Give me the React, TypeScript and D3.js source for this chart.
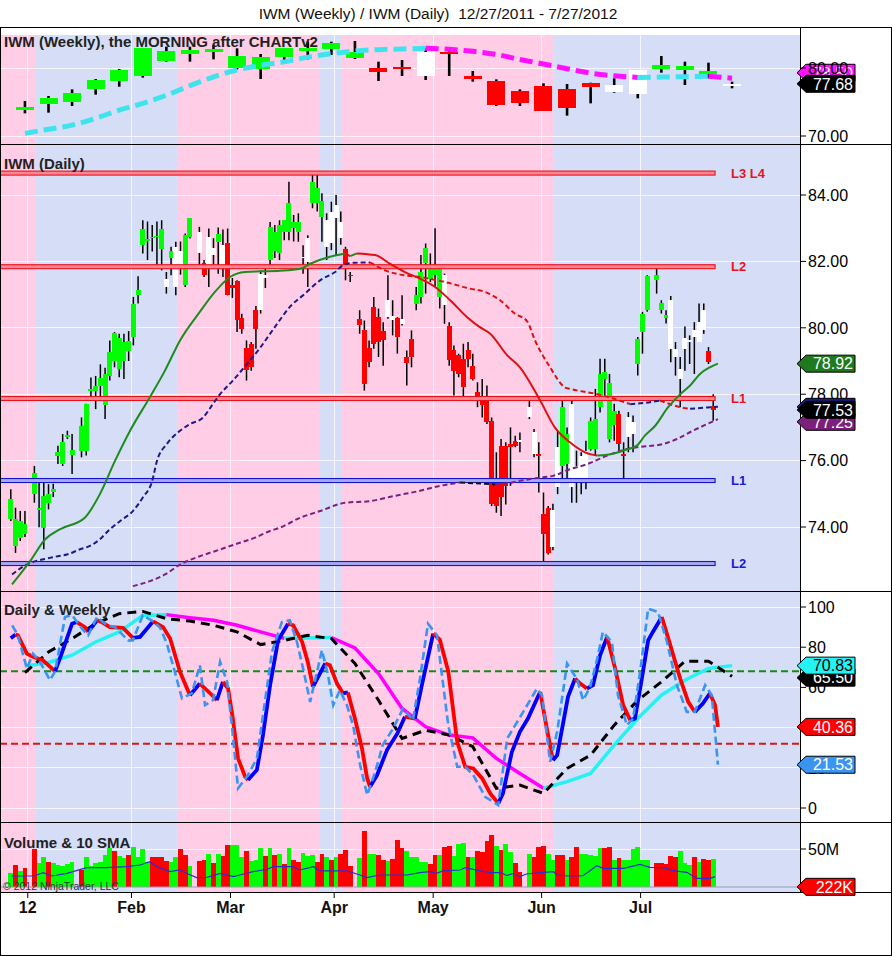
import React, { useEffect, useRef } from "react";
import * as d3 from "d3";

type Pt = [number, number];

// ---- calendar (one slot per weekday; holidays leave empty slots) ----
const firstDay = "2011-12-27";
const lastDay = "2012-07-23";
const firstWeekEnd = "2011-12-30";
const lastWeekEnd = "2012-07-27";
const holidays = ["2012-01-02", "2012-01-16", "2012-02-20", "2012-04-06", "2012-05-28", "2012-07-04"];
const monthTicks = [
  { label: "12", date: "2012-01-02" },
  { label: "Feb", date: "2012-02-01" },
  { label: "Mar", date: "2012-03-01" },
  { label: "Apr", date: "2012-04-02" },
  { label: "May", date: "2012-05-01" },
  { label: "Jun", date: "2012-06-01" },
  { label: "Jul", date: "2012-07-02" },
];

// background session shading, slot positions where the colour flips
const shadeEdges = [5.1, 35.3, 65.6, 70.3, 115.2];
const shadeColors = ["#ffcde6", "#d5def6"];

// ---- weekly IWM ----
const weeklyOpen = [73.82, 74.66, 75.05, 76.91, 78.14, 78.87, 81.08, 82.0, 82.4, 80.05, 79.8, 81.57, 82.65, 82.75, 81.42, 79.95, 80.2, 78.82, 82.4, 78.82, 78.09, 76.62, 77.35, 76.91, 77.84, 76.52, 76.18, 79.8, 79.7, 79.12, 77.6];
const weeklyHigh = [75.15, 75.88, 76.86, 78.38, 79.85, 82.95, 83.14, 83.14, 83.38, 82.89, 82.06, 82.95, 83.87, 83.87, 83.97, 80.93, 81.18, 82.89, 82.5, 79.56, 78.33, 76.86, 77.75, 77.65, 77.84, 78.48, 79.7, 81.76, 80.93, 80.78, 77.99];
const weeklyLow = [73.33, 73.43, 74.41, 76.08, 77.25, 78.58, 80.93, 80.93, 81.27, 79.8, 78.38, 81.08, 81.27, 81.91, 81.32, 78.09, 78.82, 78.24, 78.82, 77.99, 74.41, 74.41, 73.73, 72.99, 74.8, 76.37, 75.54, 79.31, 77.5, 78.48, 77.01];
const weeklyClose = [74.22, 75.54, 76.27, 78.24, 79.71, 82.89, 82.5, 82.65, 82.79, 81.76, 81.57, 82.89, 82.89, 83.73, 82.4, 79.46, 79.8, 82.4, 82.4, 78.63, 74.56, 74.8, 73.73, 74.07, 77.16, 77.5, 79.7, 80.44, 80.29, 79.6, 77.68];
const weeklyPaint = "gggggggggggggggrrwrrrrrrrwwgggw";
const weeklyMA = [70.39, 71.0, 71.6, 72.6, 73.8, 74.8, 76.0, 77.4, 78.7, 79.7, 80.4, 80.9, 81.6, 82.1, 82.5, 82.7, 82.8, 82.9, 82.75, 82.45, 82.0, 81.25, 80.6, 79.9, 79.25, 78.85, 78.62, 78.66, 78.72, 78.78, 78.5];

// ---- daily IWM ----
const dailyOpen = [74.23, 73.43, 73.68, 73.78, 74.99, 74.5, 73.98, 74.73, 75.05, 76.15, 75.9, 76.72, 76.18, 76.3, 76.3, 78.1, 78.1, 78.24, 77.66, 78.56, 79.0, 78.76, 79.0, 79.3, 79.72, 81.0, 82.49, 82.6, 82.7, 82.75, 82.36, 81.48, 82.1, 82.44, 82.3, 81.28, 82.74, 82.9, 81.94, 82.74, 82.2, 82.59, 82.49, 82.54, 81.2, 81.41, 80.29, 79.4, 79.5, 79.97, 80.53, 81.5, 82.04, 82.3, 82.24, 82.89, 82.89, 83.0, 82.89, 82.14, 82.69, 83.75, 83.75, 83.33, 83.24, 83.5, 83.7, 83.2, 82.37, 81.6, 80.27, 79.92, 79.4, 80.63, 80.33, 79.9, 80.83, 80.37, 80.3, 80.27, 79.12, 79.67, 80.73, 80.93, 81.94, 81.48, 81.6, 80.93, 81.58, 80.04, 79.34, 79.19, 79.07, 79.32, 78.84, 78.06, 77.86, 77.96, 77.2, 75.34, 76.45, 76.45, 76.5, 76.6, 76.62, 77.3, 76.85, 76.2, 74.38, 74.58, 73.4, 76.4, 75.84, 75.9, 77.7, 75.84, 76.15, 76.3, 76.35, 76.35, 77.6, 78.46, 76.65, 77.06, 77.4, 76.2, 77.3, 77.15, 78.91, 79.87, 80.53, 81.45, 80.53, 80.3, 80.83, 79.37, 78.76, 79.37, 79.57, 79.92, 80.17, 80.53, 79.3, 77.64];
const dailyHigh = [75.14, 74.58, 74.48, 74.48, 75.84, 75.34, 75.34, 75.29, 75.3, 76.45, 76.8, 76.9, 76.8, 77.3, 77.71, 78.5, 78.55, 78.9, 78.8, 79.62, 79.87, 79.82, 79.82, 79.9, 80.93, 81.55, 83.24, 83.2, 83.1, 83.2, 83.24, 81.68, 82.44, 82.59, 82.6, 82.84, 83.3, 83.04, 82.04, 82.99, 82.7, 83.02, 82.96, 82.99, 81.5, 81.43, 80.42, 79.62, 79.57, 80.66, 81.73, 81.8, 83.19, 83.1, 83.24, 83.24, 84.4, 83.4, 83.45, 82.49, 82.79, 84.65, 84.6, 84.05, 83.45, 83.8, 84.0, 83.5, 82.44, 81.68, 80.53, 80.22, 79.62, 80.93, 80.58, 80.17, 81.58, 80.83, 80.32, 80.98, 79.32, 79.92, 81.23, 82.19, 82.54, 82.24, 83.0, 81.88, 81.63, 80.17, 79.47, 79.22, 79.52, 79.57, 79.22, 78.36, 78.46, 78.26, 77.3, 76.25, 76.65, 76.55, 77.0, 76.75, 76.85, 77.86, 76.95, 76.55, 75.04, 74.63, 74.7, 76.9, 77.81, 77.0, 77.86, 76.3, 76.25, 76.6, 77.3, 78.16, 79.07, 79.07, 78.61, 77.71, 77.5, 76.55, 77.46, 77.36, 79.72, 80.48, 81.58, 81.83, 80.83, 80.53, 80.96, 79.57, 79.12, 80.04, 79.77, 80.17, 80.73, 80.73, 79.42, 78.0];
const dailyLow = [74.18, 73.22, 73.58, 73.7, 74.73, 73.99, 73.33, 74.53, 74.9, 75.9, 75.84, 76.65, 75.6, 76.1, 76.15, 77.8, 77.55, 77.9, 77.25, 78.41, 78.81, 78.51, 78.46, 79.0, 79.47, 80.73, 82.24, 82.04, 82.3, 81.9, 81.73, 81.03, 81.58, 80.98, 81.6, 81.23, 82.69, 81.89, 81.53, 81.23, 81.9, 81.63, 81.53, 80.98, 80.9, 79.87, 79.82, 78.41, 78.71, 79.37, 80.43, 81.2, 81.89, 82.1, 82.04, 82.64, 82.64, 82.6, 82.59, 81.63, 81.23, 83.6, 83.5, 82.59, 82.04, 82.34, 82.19, 82.5, 81.43, 81.38, 79.82, 78.11, 78.81, 79.37, 79.12, 78.86, 80.27, 79.77, 79.22, 80.07, 78.26, 78.81, 80.53, 80.73, 81.03, 81.38, 81.23, 80.58, 80.12, 78.86, 77.96, 78.51, 77.91, 78.81, 78.41, 77.61, 77.3, 77.1, 74.63, 74.43, 74.33, 74.68, 75.24, 76.4, 76.25, 77.25, 76.1, 75.04, 72.92, 73.17, 73.3, 74.99, 75.34, 75.4, 74.73, 74.73, 74.99, 75.14, 76.3, 76.15, 77.45, 77.81, 76.55, 76.6, 76.3, 75.44, 76.25, 76.25, 78.56, 79.22, 80.48, 81.03, 80.43, 80.13, 78.96, 78.56, 77.61, 78.71, 78.91, 78.61, 79.57, 79.82, 78.91, 77.2];
const dailyClose = [74.84, 74.23, 74.18, 74.08, 75.64, 74.58, 74.94, 74.99, 75.14, 76.25, 76.55, 76.78, 76.32, 77.05, 77.7, 78.16, 78.24, 78.5, 78.61, 79.27, 79.84, 79.7, 79.57, 79.6, 80.73, 81.15, 82.99, 82.66, 82.75, 82.77, 82.99, 81.23, 82.3, 81.23, 81.9, 82.81, 83.3, 82.24, 81.6, 81.9, 82.4, 82.82, 81.9, 80.98, 81.3, 80.22, 79.97, 78.73, 78.81, 80.53, 81.63, 81.6, 83.04, 82.9, 83.09, 83.24, 83.75, 83.2, 83.19, 82.1, 81.99, 84.4, 84.2, 83.82, 82.44, 82.54, 83.3, 82.7, 81.85, 81.56, 80.07, 78.31, 78.96, 79.52, 79.57, 79.62, 80.33, 80.22, 79.72, 80.12, 78.93, 79.12, 80.98, 81.68, 82.39, 81.83, 81.83, 81.78, 80.68, 79.02, 78.71, 78.61, 78.21, 79.07, 78.46, 77.8, 77.66, 77.15, 74.68, 74.63, 74.89, 75.24, 76.4, 76.45, 76.6, 77.6, 76.2, 76.18, 73.78, 73.23, 74.5, 75.19, 77.6, 76.8, 75.19, 75.49, 75.39, 75.44, 77.2, 77.25, 78.61, 78.66, 78.33, 77.5, 76.5, 76.18, 76.7, 76.8, 79.67, 80.43, 81.55, 81.6, 80.75, 80.4, 79.37, 79.12, 78.46, 79.7, 79.62, 79.72, 79.57, 79.92, 78.96, 77.53];
const dailyPaint = "ggggggggggggggggggggggggggggggg" + "wgwwggwrwwgwrrrrrrr" + "wwggggggg" + "wwggg" + "wwww" + "rr" + "rrrrrr" + "wwrwrr" + "gggggg" + "w" + "rrrrrrrrrrrrrrr" + "www" + "rrr" + "ww" + "gg" + "wwww" + "gggggg" + "rr" + "ww" + "gggggg" + "wwwwwwww" + "rr";

// moving averages, [slot, price]
const fastMA: Pt[] = [[0.25, 72.27], [4.1, 72.97], [7.3, 73.63], [10.4, 73.93], [15.7, 74.28], [18.9, 74.99], [22.1, 75.99], [25.3, 76.9], [29.5, 77.91], [32.7, 78.71], [35.9, 79.62], [40.1, 80.48], [43.3, 81.08], [46.5, 81.53], [49.7, 81.68], [52.9, 81.7], [57.1, 81.72], [61.4, 81.78], [63.5, 81.93], [67.7, 82.14], [70.9, 82.24], [72.0, 82.16], [73.4, 82.24], [77.3, 82.19], [80.4, 81.93], [83.6, 81.68], [86.8, 81.48], [90.0, 81.23], [93.2, 80.83], [96.8, 80.32], [99.5, 80.02], [101.7, 79.82], [105.3, 79.17], [108.0, 78.81], [112.3, 77.81], [115.4, 77.0], [118.6, 76.55], [121.8, 76.25], [124.4, 76.15], [126.1, 76.17], [127.5, 76.2], [130.3, 76.32], [132.8, 76.45], [134.5, 76.75], [136.7, 77.05], [139.4, 77.6], [142.0, 78.0], [144.1, 78.26], [146.2, 78.61], [148.3, 78.81], [150.0, 78.92]];
const midMA: Pt[] = [[0.25, 72.57], [3.4, 72.87], [8.3, 73.07], [10.0, 73.12], [11.9, 73.17], [14.7, 73.33], [16.8, 73.43], [18.9, 73.63], [21.0, 73.93], [23.2, 74.18], [25.9, 74.48], [28.0, 74.89], [30.0, 75.39], [31.0, 75.99], [33.1, 76.5], [35.9, 76.9], [38.0, 77.1], [40.8, 77.3], [42.9, 77.71], [44.4, 78.0], [47.1, 78.41], [50.1, 78.91], [52.9, 79.4], [56.0, 80.02], [59.2, 80.63], [62.4, 81.03], [65.6, 81.43], [68.8, 81.68], [70.9, 81.92], [73.0, 81.96], [76.2, 81.97], [79.4, 81.73], [83.6, 81.58], [86.8, 81.53], [92.1, 81.38], [97.4, 81.18], [100.6, 81.08], [103.8, 80.83], [106.9, 80.43], [109.5, 80.2], [111.2, 79.62], [114.4, 78.81], [117.6, 78.2], [118.6, 78.16], [124.4, 78.0], [127.1, 77.9], [131.4, 77.7], [134.5, 77.74], [137.7, 77.81], [142.0, 77.61], [144.1, 77.56], [147.7, 77.6], [150.0, 77.62]];
const slowMA: Pt[] = [[25.9, 72.22], [29.5, 72.37], [32.7, 72.57], [35.9, 72.87], [40.1, 73.12], [43.3, 73.27], [47.6, 73.48], [51.8, 73.68], [55.0, 73.88], [57.1, 73.98], [61.4, 74.28], [65.6, 74.48], [70.9, 74.73], [76.2, 74.78], [81.5, 74.94], [86.8, 75.09], [91.1, 75.24], [95.3, 75.34], [99.5, 75.31], [102.7, 75.28], [105.9, 75.33], [108.0, 75.39], [112.3, 75.49], [115.0, 75.54], [118.6, 75.74], [122.2, 75.89], [126.5, 76.15], [130.7, 76.35], [132.8, 76.4], [138.4, 76.5], [141.3, 76.65], [144.7, 76.9], [147.7, 77.1], [150.0, 77.25]];

// hand-drawn support / resistance levels
const resistance = [84.66, 81.84, 77.87];
const resistanceLabels = ["L3 L4", "L2", "L1"];
const support = [75.4, 72.9];
const supportLabels = ["L1", "L2"];
const levelEndSlot = 149.4;

// ---- Daily & Weekly oscillator ----
const oscFast: Pt[] = [[0.3, 90.9], [1.5, 85.9], [3.4, 69.4], [4.7, 76.8], [6.2, 72.7], [8.3, 63.6], [9.4, 68], [11.5, 95], [13, 95.9], [15.1, 89.2], [16.4, 85.9], [18.3, 95], [20.4, 90.9], [22.1, 90], [24.9, 83.4], [25.9, 83.4], [28, 95.9], [30.2, 92.9], [31.7, 89.6], [33.1, 81.8], [34.8, 67.7], [36.3, 54.5], [38.4, 57], [40.1, 71], [41.2, 51.2], [42.9, 53.6], [44.4, 72.7], [45.9, 62.7], [47.1, 36.3], [48.2, 9.8], [50.1, 15.6], [52.2, 24.7], [53.9, 52.8], [55.4, 77.6], [57.5, 92.5], [59.2, 93.4], [60.7, 82.6], [62, 69.4], [63.5, 52.8], [66, 78.5], [67.3, 66], [68.4, 51.2], [69.8, 58.6], [71.3, 51.2], [72.6, 41.2], [74.1, 21.4], [75.6, 6.5], [77.3, 18], [78.9, 31.3], [81.1, 39.6], [83.2, 49.5], [85.3, 43.7], [86.8, 64.4], [88.5, 91.7], [90.4, 85.9], [92.8, 41.2], [94.7, 20.5], [96.4, 20.5], [98.1, 16.4], [100.6, 5.6], [103.4, 1.5], [105.3, 34.6], [107, 41.2], [108.7, 47.8], [111.6, 59.4], [112.7, 56.1], [114.4, 23], [115.9, 37.9], [118, 71.9], [119.1, 67.7], [120.1, 64.4], [121.4, 53.6], [122.9, 60.3], [124.4, 74.3], [125.6, 87.6], [127.5, 82.6], [128.8, 56.1], [130.7, 41.2], [132, 44.5], [133.5, 67.7], [135.2, 99.2], [137.3, 97.5], [139.2, 82.6], [141.3, 61.1], [143.4, 47.8], [145.1, 47.8], [147.3, 61.1], [148.7, 56.1], [150, 21.53]];
const oscSlow: Pt[] = [[0, 84.5], [1, 86.3], [1.5, 85.9], [3.4, 76.8], [4.7, 75.2], [6.8, 73.5], [9.4, 68], [10.9, 77.6], [13, 91.7], [14, 92.5], [15.7, 90], [16.4, 87.6], [18.3, 93.4], [19.3, 92.5], [21, 90], [23.8, 89.6], [25.9, 84.6], [27.4, 85.1], [30.2, 92.9], [32.3, 90], [33.8, 84.3], [35.9, 67.7], [38, 56.1], [40.1, 61.9], [42.7, 56.1], [43.7, 53.6], [45, 62.7], [46.1, 59.4], [47.1, 44.5], [48.2, 24.7], [49.7, 15.6], [50.3, 13.9], [52.2, 18.9], [53.5, 36.3], [55, 61.1], [56.7, 83.4], [58.8, 91.7], [59.9, 90.9], [61.8, 82.6], [63, 72.7], [64.1, 60.3], [65.2, 65.2], [66.7, 71.9], [67.7, 71], [69.2, 61.9], [70.5, 57], [71.5, 57.5], [73, 44.5], [74.5, 29.6], [75.6, 14.7], [76.2, 10.6], [77.7, 16.4], [79.8, 28.8], [82, 37.1], [83.6, 45.4], [85.7, 44.5], [87.2, 61.1], [89.6, 86.8], [91, 83.8], [92.8, 68], [94.7, 32.9], [96.4, 20.5], [98.1, 19.7], [100, 14.7], [101.7, 7.3], [103.4, 2.3], [104.4, 7.3], [106.3, 28], [108, 37.9], [109.7, 44.5], [112.3, 57.8], [113.7, 39.6], [115, 23.8], [115.9, 26.3], [118.2, 55.3], [119.7, 64.4], [120.8, 61.9], [122.2, 59.4], [123.5, 61.1], [125, 76], [126.5, 85.1], [128.2, 69.4], [129.9, 51.2], [131.4, 43.7], [132.4, 44.5], [133.5, 59.4], [135.2, 83.4], [136.2, 87.6], [138.1, 95], [139.8, 81.8], [142, 64.4], [143.7, 52.8], [145.1, 47.8], [146.8, 52], [148.3, 57], [149.4, 51.2], [150, 40.36]];
const oscWeeklyK = [67.4, 77.6, 84.3, 91.7, 96.7, 97.8, 94.2, 93.0, 90.9, 87.6, 81.3, 83.4, 85.9, 84.3, 71.9, 53.6, 34.6, 38.7, 36.3, 30.5, 9.8, 11.4, 7.3, 19.7, 26.3, 41.2, 53.6, 62.7, 73.0, 73.0, 65.5];
const oscWeeklyD = [70.5, 72.4, 76.0, 82.6, 87.6, 95.8, 96.2, 94.7, 93.4, 90.9, 87.6, 84.4, 84.6, 84.8, 79.6, 66.9, 49.5, 40.4, 36.3, 34.9, 24.7, 17.2, 9.8, 13.1, 17.2, 31.3, 44.5, 56.1, 63.6, 69.4, 70.83];
const overbought = 68;
const oversold = 32;

// ---- volume (millions) ----
const volume = [18, 29, 21, 25, 50, 32, 40, 33, 31, 29, 28, 30, 33, 22, 39, 27, 31, 33, 42, 51, 47, 41, 38, 42, 52, 40, 50, 33, 39, 40, 40, 34, 33, 39, 50, 42, 27, 34, 36, 43, 32, 44, 41, 55, 55, 55, 39, 47, 34, 36, 51, 41, 51, 42, 44, 30, 51, 36, 33, 45, 41, 42, 33, 43, 40, 36, 40, 43, 49, 27, 38, 74, 43, 43, 42, 36, 34, 37, 62, 51, 47, 40, 39, 33, 33, 30, 42, 42, 53, 54, 41, 56, 58, 39, 40, 47, 46, 61, 68, 54, 49, 57, 46, 31, 20, 43, 39, 52, 54, 43, 36, 42, 42, 36, 40, 52, 43, 43, 42, 41, 51, 51, 52, 36, 38, 36, 36, 50, 52, 35, 35, 32, 32, 30, 41, 39, 47, 31, 29, 39, 33, 37, 36, 37];
const volumePaint = "grgrrggrgg" + "gggrgggggg" + "rggrggggrr" + "rrggrrgrrg" + "rgrrgggrgg" + "grgrgrgrrg" + "ggrrgrgrrr" + "grggrrgrrr" + "gggggrrgrr" + "gggrgrrrrg" + "rggrrgrrrg" + "grrgrrgggg" + "grrgrggggg" + "grrrrrgggr" + "grrg";
const volumeSMA: Pt[] = [[0.2, 14.5], [4.8, 14.5], [6.9, 18.9], [8.7, 14.5], [11.9, 18.0], [16.1, 25.4], [20.3, 25.4], [24.6, 26.8], [27.4, 28.9], [29.5, 33.3], [31, 26.8], [33.8, 20.2], [35.9, 22.4], [37.3, 18.0], [39.4, 12.3], [41.6, 12.7], [44.4, 18.0], [47.2, 13.6], [48.6, 15.8], [51.4, 20.2], [54.3, 23.2], [55.7, 26.8], [59.9, 26.8], [61.3, 22.4], [64.2, 26.8], [65.6, 21.1], [71.3, 21.1], [74.1, 15.8], [75.5, 12.3], [78.3, 15.8], [84, 15.8], [86.8, 18.9], [88.9, 20.2], [90.3, 18.0], [91.7, 21.1], [95.3, 22.4], [96.4, 25.4], [98.1, 23.2], [101.7, 18.9], [104.1, 18.9], [105.2, 14.9], [106.6, 18.0], [108, 13.6], [109.4, 17.1], [112.3, 18.9], [115.1, 20.2], [116.1, 15.8], [117.9, 14.5], [121.4, 14.9], [124.3, 28.1], [125.7, 24.6], [130, 24.6], [133.5, 29.8], [135.6, 25.9], [138.4, 25.4], [140.5, 21.5], [143.4, 19.3], [145.5, 11.4], [148.3, 11.4], [149.4, 13.6]];
const lastVolume = 0.222;

const W = 892;
const H = 956;
const PLOT_R = 800;
const FONT = "'Liberation Sans', Arial, Helvetica, sans-serif";
const paint: Record<string, string> = { g: "#00ff00", r: "#ff0000", w: "#ffffff" };

const day = (s: string) => new Date(s + "T00:00:00Z");
const fmt = d3.utcFormat("%Y-%m-%d");
const isWeekday = (d: Date) => d.getUTCDay() % 6 !== 0;
const slotOf = (s: string) => d3.utcDay.range(day(firstDay), day(s)).filter(isWeekday).length;

// split a series into runs that go up or down, so each run gets its colour
function colorRuns(pts: Pt[]) {
  const out: { up: boolean; pts: Pt[] }[] = [];
  for (let i = 1; i < pts.length; i++) {
    const up = pts[i][1] >= pts[i - 1][1];
    const last = out[out.length - 1];
    if (last && last.up === up) last.pts.push(pts[i]);
    else out.push({ up, pts: [pts[i - 1], pts[i]] });
  }
  return out;
}

const App: React.FC = () => {
  const svgRef = useRef<SVGSVGElement | null>(null);

  useEffect(() => {
    if (!svgRef.current) return;
    const svg = d3.select(svgRef.current);
    svg.selectAll("*").remove();
    svg.attr("font-family", FONT);

    const holidaySet = new Set(holidays);
    const tradingDays = d3.utcDay
      .range(day(firstDay), d3.utcDay.offset(day(lastDay), 1))
      .filter(isWeekday)
      .map(fmt)
      .filter((s) => !holidaySet.has(s));
    const dSlots = tradingDays.map(slotOf);
    const wSlots = d3.utcFriday.range(day(firstWeekEnd), d3.utcDay.offset(day(lastWeekEnd), 1)).map((d) => slotOf(fmt(d)));
    const tickSlots = monthTicks.map((t) => slotOf(t.date) - 0.4);

    const x = d3.scaleLinear().domain([0, slotOf(lastDay)]).range([10.8, 713.2]);
    const yW = d3.scaleLinear().domain([70, 80]).range([136, 68]);
    const yD = d3.scaleLinear().domain([74, 84]).range([527, 195]);
    const yO = d3.scaleLinear().domain([0, 100]).range([808, 607]);
    const yV = d3.scaleLinear().domain([0, 50]).range([887, 849]);

    const panels = [
      { id: "pw", top: 35, bottom: 144, y: yW, ticks: [70, 80], fmt: (v: number) => v.toFixed(2) },
      { id: "pd", top: 144, bottom: 591, y: yD, ticks: [74, 76, 78, 80, 82, 84], fmt: (v: number) => v.toFixed(2) },
      { id: "po", top: 591, bottom: 822, y: yO, ticks: [0, 20, 40, 60, 80, 100], fmt: (v: number) => String(v) },
      { id: "pv", top: 822, bottom: 892, y: yV, ticks: [50], fmt: (v: number) => v + "M" },
    ];

    svg.append("rect").attr("width", W).attr("height", H).attr("fill", "#fff");

    const defs = svg.append("defs");
    const edgesX = [0, ...shadeEdges.map((s) => x(s)), PLOT_R];
    panels.forEach((p) => {
      defs.append("clipPath").attr("id", p.id).append("rect").attr("x", 0).attr("y", p.top).attr("width", PLOT_R).attr("height", p.bottom - p.top);
      const bg = svg.append("g").attr("shape-rendering", "crispEdges");
      for (let i = 0; i < edgesX.length - 1; i++) {
        bg.append("rect").attr("x", edgesX[i]).attr("y", p.top).attr("width", edgesX[i + 1] - edgesX[i]).attr("height", p.bottom - p.top).attr("fill", shadeColors[i % 2]);
      }
      tickSlots.forEach((s) => bg.append("line").attr("x1", x(s)).attr("x2", x(s)).attr("y1", p.top).attr("y2", p.bottom).attr("stroke", "#fff").attr("stroke-opacity", 0.75));
      p.ticks.forEach((v) => bg.append("line").attr("x1", 0).attr("x2", PLOT_R).attr("y1", p.y(v)).attr("y2", p.y(v)).attr("stroke", "#fff").attr("stroke-opacity", 0.75));
    });

    const layer = (id: string) => svg.append("g").attr("clip-path", `url(#${id})`);

    const candles = (g: any, slots: number[], O: number[], Hi: number[], L: number[], C: number[], P: string, y: any, bodyW: number, wickW: number, minH: number) => {
      const idx = d3.range(slots.length);
      g.append("g").selectAll("line").data(idx).join("line")
        .attr("x1", (i: number) => x(slots[i])).attr("x2", (i: number) => x(slots[i]))
        .attr("y1", (i: number) => y(Hi[i])).attr("y2", (i: number) => y(L[i]))
        .attr("stroke", "#000").attr("stroke-width", wickW);
      g.append("g").attr("shape-rendering", "crispEdges").selectAll("rect").data(idx).join("rect")
        .attr("x", (i: number) => x(slots[i]) - bodyW / 2)
        .attr("y", (i: number) => y(Math.max(O[i], C[i])))
        .attr("width", bodyW)
        .attr("height", (i: number) => Math.max(y(Math.min(O[i], C[i])) - y(Math.max(O[i], C[i])), minH))
        .attr("fill", (i: number) => paint[P[i]]);
    };

    const trend = (g: any, pts: Pt[], y: any, up: string, down: string, width: number, dash: string | null, curve: any) => {
      const gen = d3.line<Pt>().x((p) => x(p[0])).y((p) => y(p[1])).curve(curve);
      colorRuns(pts).forEach((r) => {
        g.append("path").attr("d", gen(r.pts)).attr("fill", "none").attr("stroke", r.up ? up : down)
          .attr("stroke-width", width).attr("stroke-dasharray", dash);
      });
    };

    // weekly panel
    const gw = layer("pw");
    candles(gw, wSlots, weeklyOpen, weeklyHigh, weeklyLow, weeklyClose, weeklyPaint, yW, 18, 2.6, 2.6);
    trend(gw, wSlots.map((s, i) => [s, weeklyMA[i]] as Pt), yW, "#3fe3ee", "#ff10ff", 5, "13,6", d3.curveMonotoneX);

    // daily panel
    const gd = layer("pd");
    candles(gd, dSlots, dailyOpen, dailyHigh, dailyLow, dailyClose, dailyPaint, yD, 5, 1.5, 1.6);
    const levels = [
      ...resistance.map((v, i) => ({ v, label: resistanceLabels[i], stroke: "#e8121f", fill: "#ff8590", text: "#e8121f" })),
      ...support.map((v, i) => ({ v, label: supportLabels[i], stroke: "#1414d2", fill: "#a9a9f2", text: "#1a1ad0" })),
    ];
    levels.forEach((l) => {
      gd.append("rect").attr("x", 0).attr("y", yD(l.v) - 2).attr("width", x(levelEndSlot)).attr("height", 4)
        .attr("fill", l.fill).attr("stroke", l.stroke).attr("stroke-width", 1.1);
    });
    trend(gd, slowMA, yD, "#7d1f7d", "#111111", 2, "5,3", d3.curveMonotoneX);
    trend(gd, midMA, yD, "#1b1b85", "#e01010", 2, "5,3", d3.curveMonotoneX);
    trend(gd, fastMA, yD, "#1f8a1f", "#e01010", 2, null, d3.curveMonotoneX);
    levels.forEach((l) => {
      svg.append("text").attr("x", x(levelEndSlot) + 16).attr("y", yD(l.v)).attr("dy", "0.36em")
        .attr("font-size", 13).attr("font-weight", "bold").attr("fill", l.text).text(l.label);
    });

    // oscillator panel
    const go = layer("po");
    [overbought, oversold].forEach((v, i) => {
      go.append("line").attr("x1", 0).attr("x2", PLOT_R).attr("y1", yO(v)).attr("y2", yO(v))
        .attr("stroke", i === 0 ? "#138a13" : "#d81818").attr("stroke-width", 2).attr("stroke-dasharray", "7,4");
    });
    trend(go, wSlots.map((s, i) => [s, oscWeeklyD[i]] as Pt), yO, "#25f2f2", "#ff00ff", 3.5, null, d3.curveLinear);
    go.append("path").attr("d", d3.line<Pt>().x((p) => x(p[0])).y((p) => yO(p[1]))(wSlots.map((s, i) => [s, oscWeeklyK[i]] as Pt)))
      .attr("fill", "none").attr("stroke", "#000").attr("stroke-width", 3).attr("stroke-dasharray", "9,6");
    trend(go, oscSlow, yO, "#0000ff", "#ff0000", 3.8, null, d3.curveLinear);
    go.append("path").attr("d", d3.line<Pt>().x((p) => x(p[0])).y((p) => yO(p[1]))(oscFast))
      .attr("fill", "none").attr("stroke", "#3b94f0").attr("stroke-width", 2.6).attr("stroke-dasharray", "8,4");

    // volume panel
    const gv = layer("pv");
    const slotW = x(1) - x(0);
    gv.append("g").attr("shape-rendering", "crispEdges").selectAll("rect").data(d3.range(dSlots.length)).join("rect")
      .attr("x", (i: number) => x(dSlots[i]) - slotW / 2)
      .attr("y", (i: number) => yV(volume[i]))
      .attr("width", slotW)
      .attr("height", (i: number) => yV(0) - yV(volume[i]))
      .attr("fill", (i: number) => paint[volumePaint[i]]);
    gv.append("line").attr("x1", 0).attr("x2", PLOT_R).attr("y1", yV(0)).attr("y2", yV(0)).attr("stroke", "#9a9ab8").attr("stroke-width", 1);
    gv.append("path").attr("d", d3.line<Pt>().x((p) => x(p[0])).y((p) => yV(p[1]))(volumeSMA))
      .attr("fill", "none").attr("stroke", "#2c2cd0").attr("stroke-width", 1.2);

    // panel titles
    const titles = [
      { text: "IWM (Weekly), the MORNING after CHARTv2", y: 47 },
      { text: "IWM (Daily)", y: 169 },
      { text: "Daily & Weekly", y: 615 },
      { text: "Volume & 10 SMA", y: 848 },
    ];
    titles.forEach((t) => svg.append("text").attr("x", 4).attr("y", t.y).attr("font-size", 15).attr("font-weight", "bold").attr("fill", "#222").text(t.text));
    svg.append("text").attr("x", 3).attr("y", 890).attr("font-size", 10.5).attr("fill", "#333").text("\u00a9 2012 NinjaTrader, LLC");

    // frame
    const frame = svg.append("g").attr("stroke", "#000").attr("stroke-width", 1).attr("shape-rendering", "crispEdges");
    frame.append("rect").attr("x", 0.5).attr("y", 27.5).attr("width", W - 1.5).attr("height", H - 28.5).attr("fill", "none");
    [144, 591, 822, 892].forEach((yy) => frame.append("line").attr("x1", 0).attr("x2", W - 1).attr("y1", yy + 0.5).attr("y2", yy + 0.5));
    frame.append("line").attr("x1", PLOT_R + 0.5).attr("x2", PLOT_R + 0.5).attr("y1", 27).attr("y2", 892);

    // price markers on the right axis
    const marker = (yy: number, label: string, fill: string, color: string) => {
      const tip = 797, left = 806, right = 855, h = 17;
      svg.append("path")
        .attr("d", `M${tip},${yy} L${left},${yy - h / 2} L${right},${yy - h / 2} L${right},${yy + h / 2} L${left},${yy + h / 2} Z`)
        .attr("fill", fill).attr("stroke", "#000").attr("stroke-width", 1);
      svg.append("text").attr("x", right - 2).attr("y", yy).attr("dy", "0.36em").attr("text-anchor", "end")
        .attr("font-size", 16).attr("fill", color).text(label);
    };
    const last = <T,>(a: T[]) => a[a.length - 1];
    const wCloseY = yW(last(weeklyClose));

    // the weekly MA marker sits behind the 80.00 label, as in the original
    marker(Math.min(yW(last(weeklyMA)), wCloseY - 11), last(weeklyMA).toFixed(2), "#ff10ff", "#fff");

    // right axes
    panels.forEach((p) => {
      p.ticks.forEach((v) => {
        svg.append("line").attr("x1", PLOT_R).attr("x2", PLOT_R + 6).attr("y1", p.y(v)).attr("y2", p.y(v)).attr("stroke", "#000");
        svg.append("text").attr("x", PLOT_R + 8).attr("y", p.y(v)).attr("dy", "0.36em").attr("font-size", 16).attr("fill", "#000").text(p.fmt(v));
      });
    });

    // bottom time axis
    monthTicks.forEach((t, i) => {
      const tx = x(tickSlots[i]);
      svg.append("line").attr("x1", tx).attr("x2", tx).attr("y1", 892).attr("y2", 898).attr("stroke", "#000");
      svg.append("text").attr("x", tx).attr("y", 913).attr("text-anchor", "middle").attr("font-size", 16).attr("font-weight", "bold").attr("fill", "#111").text(t.label);
    });

    marker(wCloseY, last(weeklyClose).toFixed(2), "#000", "#fff");

    const dCloseY = yD(last(dailyClose));
    marker(Math.max(yD(last(slowMA)[1]), dCloseY + 12), last(slowMA)[1].toFixed(2), "#7d1f7d", "#fff");
    marker(yD(last(midMA)[1]), last(midMA)[1].toFixed(2), "#1b1b85", "#fff");
    marker(dCloseY, last(dailyClose).toFixed(2), "#000", "#fff");
    marker(yD(last(fastMA)[1]), last(fastMA)[1].toFixed(2), "#1f7a1f", "#fff");

    const dY = yO(last(oscWeeklyD));
    marker(Math.max(yO(last(oscWeeklyK)), dY + 12), last(oscWeeklyK).toFixed(2), "#000", "#fff");
    marker(dY, last(oscWeeklyD).toFixed(2), "#25f2f2", "#000");
    marker(yO(last(oscSlow)[1]), last(oscSlow)[1].toFixed(2), "#ff0000", "#fff");
    marker(yO(last(oscFast)[1]), last(oscFast)[1].toFixed(2), "#3b94f0", "#fff");

    marker(yV(lastVolume), Math.round(lastVolume * 1000) + "K", "#ff0000", "#fff");

    // title
    svg.append("text").attr("x", 438).attr("y", 19).attr("text-anchor", "middle").attr("font-size", 15.5).attr("fill", "#111")
      .style("white-space", "pre")
      .text("IWM (Weekly) / IWM (Daily)  12/27/2011 - 7/27/2012");

    return () => {
      svg.selectAll("*").remove();
    };
  }, []);

  return <svg ref={svgRef} width={W} height={H} style={{ position: "absolute", left: 0, top: 0 }} />;
};

export default App;
